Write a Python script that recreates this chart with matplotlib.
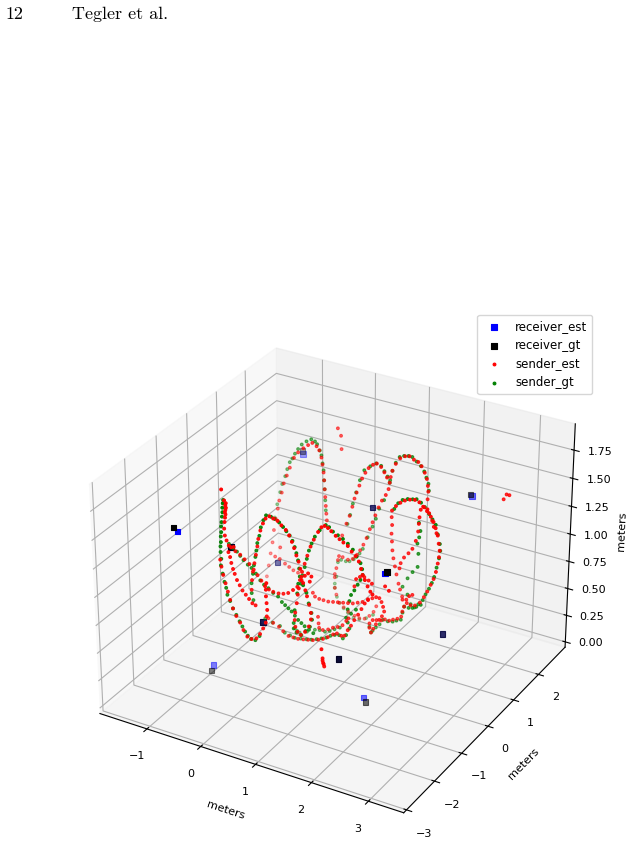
import numpy as np
import matplotlib
matplotlib.use("Agg")
import matplotlib.pyplot as plt

# receivers, meters
rec_est_x = [-0.58,-0.79,0.71,2.24,2.31,-0.24,-0.92,0.06,1.53,2.38,-0.87,1.54]
rec_est_y = [-2.64,1.98,1.59,2.17,-1.18,-1.54,1.26,-1.06,-1.25,0.83,-1.10,-0.37]
rec_est_z = [1.66,1.37,1.16,1.35,1.39,1.34,0.50,0.61,0.54,0.41,0.08,-0.02]
rec_gt_x = [-0.64,-0.81,0.71,2.21,2.33,-0.24,-0.92,0.06,1.53,2.38,-0.88,1.59]
rec_gt_y = [-2.65,2.00,1.59,2.18,-1.15,-1.54,1.26,-1.06,-1.25,0.83,-1.15,-0.39]
rec_gt_z = [1.69,1.39,1.16,1.36,1.40,1.34,0.50,0.61,0.54,0.41,0.04,-0.05]

# sender tracks, centimeters (y given per stretch of the track, in meters)
est_x = [-82,-77,-74,-75,-74,-75,-76,-75,-76,-77,-78,-77,-74,-70,-66,-61,-71,-68,-66,-63,-60,-56,-51,-46,
-40,-34,-28,-22,-86,-77,-69,-60,-52,-45,-38,-31,-24,-16,-6,3,12,21,29,37,43,49,55,52,-81,-79,-76,
-72,-68,-64,-59,-53,-46,-40,-33,-25,-16,-9,-3,2,4,5,4,3,3,4,-51,-50,-48,-45,-42,-39,-37,-33,-28,
-23,-16,-9,-1,6,14,20,25,29,33,37,40,42,45,49,52,56,59,59,55,48,40,34,30,29,30,33,35,37,-146,-142,
-138,-134,-130,-127,-123,-119,-116,-111,-107,-101,-95,-87,-79,-69,-60,-52,-44,-39,-35,-33,-31,-30,
-29,-28,-27,-26,-25,18,22,27,32,38,44,52,58,64,70,76,84,91,98,106,113,120,126,130,133,137,142,147,
151,-99,-109,-100,-90,-82,-74,-65,-10,-10,-7,-4,-2,5,15,24,32,38,44,50,56,61,66,72,78,4,12,18,23,
27,31,36,41,47,53,61,68,76,82,87,92,90,85,84,87,93,101,110,118,126,134,140,146,150,152,153,152,126,
133,141,149,158,167,175,182,189,196,201,205,209,211,213,212,210,207,203,198,192,186,179,170,162,
155,147,106,107,106,107,108,110,113,116,120,123,127,173,171,170,169,165,159,152,144,138,136,179,
185,188,194,197,202,-53,-44,-33,-25,-15,-6,3,13,22,31,41,50,59,69,76,84,90,96,102,108,115,121,127,
133,0,4,12,20,29,38,47,57,66,75,84,93,103,111,118,124,128,131,133,129,124,118,113,109,106,106,112,
119,20,21,22,29,39,48,57,66,73,77,108,115,123,130,138,145,147,150,154,159,165,-10,-7,-1,7,16,28,37,
47,56,64,69,96,103,111,119,125,93,149,156,99,101,101,102,103,104,-40,-34,-33,266,271,276]
est_z = [161,152,150,148,146,144,142,140,137,133,127,121,117,113,112,113,107,103,98,93,89,84,80,76,73,70,
67,66,95,93,90,87,83,79,75,71,69,68,68,69,71,75,79,86,91,94,92,87,101,95,88,81,74,67,60,54,49,43,
38,37,39,44,50,56,62,68,74,80,86,92,67,76,84,92,100,108,115,123,130,135,138,137,136,133,130,126,
121,116,110,105,99,92,87,81,76,69,62,56,49,43,39,41,45,51,58,67,75,81,8,18,29,41,52,64,75,85,93,
101,110,118,126,136,142,147,151,154,152,149,143,137,130,123,115,108,100,93,87,77,85,93,101,110,117,
125,130,132,131,129,126,124,122,120,116,113,109,103,98,94,89,85,83,58,48,47,44,42,40,39,39,36,45,
53,57,57,56,58,63,68,74,81,90,97,104,112,119,77,89,97,106,114,120,127,134,140,145,149,151,149,145,
141,137,131,125,137,143,150,156,159,160,158,157,154,149,144,138,133,126,129,134,138,141,143,144,
143,140,137,133,129,124,118,111,105,99,93,85,78,72,65,59,53,49,48,49,51,112,105,97,90,82,75,68,61,
53,48,42,134,127,121,114,105,97,92,87,81,76,137,136,133,127,122,117,27,24,22,19,16,16,16,17,18,19,
21,23,26,30,32,31,32,38,43,49,55,61,67,71,45,42,41,41,41,42,43,44,45,46,48,50,54,56,58,58,55,51,47,
42,38,33,28,24,28,32,36,37,30,24,20,19,21,24,26,29,34,37,26,28,28,30,32,35,40,45,52,56,58,26,20,13,
10,7,5,4,5,9,14,20,78,81,82,80,78,71,79,76,44,36,34,32,31,29,155,149,137,131,136,136]
est_y_vals = [-.8,-.8,-.3,-.9,-.4,1.8,0,1.5,1.8,2,1.2,1.6,1.3,.2,.8,.6,1.2,1.8,.5,-.8,2.5]
est_y_runs = [16,12,20,22,38,29,24,7,35,14,27,11,16,24,28,10,11,11,8,6,6]

gt_x = [-73,-74,-75,-75,-76,-77,-78,-78,-79,-79,-80,-80,-79,-80,-77,-74,-71,-69,-64,-59,-53,-47,-42,-37,
-32,-26,-18,-10,-98,-90,-83,-77,-71,-63,-56,-48,-40,-33,-25,-16,-7,0,6,12,18,24,30,36,42,50,58,
-125,-120,-114,-110,-104,-100,-95,-90,-85,-79,-72,-63,-54,-47,-43,-38,-35,-33,-31,-30,-29,-28,-27,
-48,-51,-51,-48,-46,-43,-41,-39,-35,-32,-27,-22,-13,-6,2,9,15,21,26,30,33,36,38,39,45,51,55,60,61,
57,49,41,32,27,27,29,34,36,20,23,27,31,35,40,46,55,66,72,79,88,97,106,115,122,129,132,133,129,124,
118,112,109,106,-7,-10,-10,-6,-1,7,15,26,37,50,63,-4,2,11,18,26,31,37,43,52,61,67,73,82,14,19,24,
30,37,45,56,67,76,82,88,92,83,87,93,100,108,116,123,131,139,145,149,153,154,130,137,145,154,163,
170,178,185,193,199,205,209,213,214,212,208,204,200,195,189,184,176,169,162,156,170,173,171,168,
170,169,160,151,142,-59,-45,-31,-22,-12,-3,8,19,28,38,47,56,64,72,80,87,93,99,96,93,102,111,-24,
-20,-15,-1,14,23,33,42,51,61,99,96,102,108,115,121,130,139,146,154,157,160,168,175,182,190]
gt_z = [155,152,148,144,140,135,131,126,122,117,113,108,102,96,89,82,77,71,66,60,55,50,46,42,39,37,37,
42,100,97,95,92,89,86,84,80,75,72,70,67,65,61,59,57,55,52,49,47,45,43,41,76,89,101,109,117,124,131,
135,140,145,150,154,157,156,154,149,145,138,132,123,115,105,96,58,64,73,82,90,98,104,111,118,126,
133,138,138,137,135,132,129,126,122,117,112,106,99,92,85,79,70,62,56,49,44,39,40,43,48,60,76,85,74,
82,90,98,106,113,120,127,133,132,129,127,125,122,118,113,108,103,98,93,88,82,77,71,63,37,30,26,18,
13,9,6,3,3,6,11,51,54,54,55,58,61,65,70,82,93,101,111,120,89,98,109,120,132,142,147,151,150,146,
142,137,134,143,151,157,159,160,160,157,154,150,145,140,134,131,137,141,143,144,145,143,140,135,
131,127,119,111,105,98,89,80,74,68,62,56,51,47,49,57,122,115,109,103,94,82,76,69,60,26,24,23,18,17,
16,17,18,19,21,23,25,28,30,31,29,33,40,45,49,54,59,13,11,10,13,17,18,18,20,23,26,18,23,20,24,28,33,
33,34,36,38,45,51,51,52,54,57]
gt_y_vals = [-.9,-.3,1.8,-.4,0,1.8,2,1.2,1.3,.2,.6,1]
gt_y_runs = [28,23,23,38,25,36,13,25,9,22,10,16]

xlim = (-1.89, 3.61)
ylim = (-3.1, 3.1)
zlim = (-0.05, 1.98)

plt.rcParams['font.size'] = 8
fig = plt.figure(figsize=(6.3, 8.41), dpi=100)
ax = fig.add_axes([0.092, -0.007, 0.862, 0.643], projection='3d', computed_zorder=False)

assert len(est_x) == len(est_z) == sum(est_y_runs), (len(est_x), len(est_z), sum(est_y_runs))
assert len(gt_x) == len(gt_z) == sum(gt_y_runs), (len(gt_x), len(gt_z), sum(gt_y_runs))
est_y = np.repeat(est_y_vals, est_y_runs)
gt_y = np.repeat(gt_y_vals, gt_y_runs)

ax.scatter(rec_est_x, rec_est_y, rec_est_z, c='blue', marker='s', s=16, linewidths=.8, label='receiver_est', zorder=1)
ax.scatter(rec_gt_x, rec_gt_y, rec_gt_z, c='black', marker='s', s=16, linewidths=.8, label='receiver_gt', zorder=2)
ax.scatter(np.array(est_x) / 100, est_y, np.array(est_z) / 100, c='red', s=4, linewidths=.8, label='sender_est', zorder=4)
ax.scatter(np.array(gt_x) / 100, gt_y, np.array(gt_z) / 100, c='green', s=4, linewidths=.8, label='sender_gt', zorder=3)

ax.set_xlim(xlim); ax.set_ylim(ylim); ax.set_zlim(zlim)
ax.set_xticks([-1, 0, 1, 2, 3])
ax.set_yticks([-3, -2, -1, 0, 1, 2])
ax.set_zticks([0, 0.25, 0.5, 0.75, 1.0, 1.25, 1.5, 1.75])
ax.set_xlabel('meters')
ax.set_ylabel('meters', labelpad=3)
ax.set_zlabel('meters', labelpad=2)
fig.legend(loc='upper right', bbox_to_anchor=(592 / 630, 1 - 315 / 841), bbox_transform=fig.transFigure,
           borderaxespad=0, fontsize=8.5)
fig.text(0.008, 0.977, '12', family='cmr10', fontsize=13)
fig.text(0.114, 0.977, 'Tegler et al.', family='cmr10', fontsize=13)
fig.savefig('out.png', dpi=100)
